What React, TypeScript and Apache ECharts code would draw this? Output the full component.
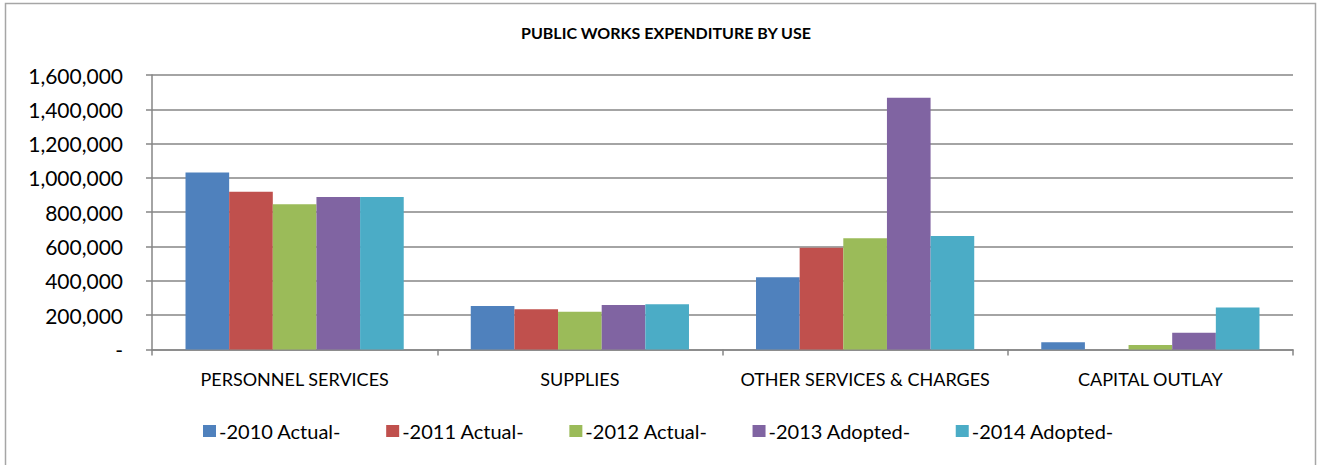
import React, { useEffect, useRef } from "react";
import * as echarts from "echarts";

const categories = ["PERSONNEL SERVICES", "SUPPLIES", "OTHER SERVICES & CHARGES", "CAPITAL OUTLAY"];
const seriesNames = ["-2010 Actual-", "-2011 Actual-", "-2012 Actual-", "-2013 Adopted-", "-2014 Adopted-"];
const values2010 = [1032000, 253000, 420000, 41000];
const values2011 = [919000, 234000, 593000, 0];
const values2012 = [846000, 220000, 648000, 25000];
const values2013 = [888000, 259000, 1467000, 97000];
const values2014 = [888000, 263000, 661000, 245000];
const colors = ["#4F81BD", "#C0504D", "#9BBB59", "#8064A2", "#4BACC6"];
const yTicks = { min: 0, max: 1600000, interval: 200000 };

const FONT = "Lato, 'Open Sans', sans-serif";

export default function App() {
  const ref = useRef<HTMLDivElement>(null);
  useEffect(() => {
    if (!ref.current) return;
    const chart = echarts.init(ref.current, undefined, { renderer: "svg" });
    const allValues = [values2010, values2011, values2012, values2013, values2014];
    chart.setOption({
      animation: false,
      backgroundColor: "#ffffff",
      color: colors,
      textStyle: { fontFamily: FONT },
      title: {
        text: "PUBLIC WORKS EXPENDITURE BY USE",
        left: 661,
        textAlign: "center",
        top: 19,
        textStyle: { fontSize: 16, fontWeight: "bold", color: "#000", fontFamily: FONT },
      },
      graphic: [
        {
          type: "rect",
          shape: { x: 5.5, y: 3.5, width: 1310, height: 480 },
          style: { fill: "none", stroke: "#a6a6a6", lineWidth: 1.5 },
          silent: true,
        },
      ],
      legend: {
        top: 416,
        left: 198,
        icon: "rect",
        itemWidth: 13,
        itemHeight: 12,
        itemGap: 45,
        data: seriesNames,
        textStyle: { fontSize: 20, color: "#000", fontFamily: FONT, padding: [0, 0, 0, -2] },
      },
      grid: { left: 152, right: 24, top: 75, bottom: 115.6, containLabel: false },
      xAxis: {
        type: "category",
        data: categories,
        axisLine: { show: true, lineStyle: { color: "#868686", width: 1.5 } },
        axisTick: { show: true, length: 6, lineStyle: { color: "#868686", width: 1.5 } },
        axisLabel: { fontSize: 18, color: "#000", margin: 21, interval: 0, fontFamily: FONT },
      },
      yAxis: {
        type: "value",
        min: yTicks.min,
        max: yTicks.max,
        interval: yTicks.interval,
        axisLine: { show: true, lineStyle: { color: "#868686", width: 1.5 } },
        axisTick: { show: true, length: 6, lineStyle: { color: "#868686", width: 1.5 } },
        splitLine: { show: true, lineStyle: { color: "#868686", width: 1.5 } },
        axisLabel: {
          fontSize: 21,
          color: "#000",
          margin: 29,
          fontFamily: FONT,
          formatter: (v: number) => (v === 0 ? "-" : v.toLocaleString("en-US")),
        },
      },
      series: seriesNames.map((name, i) => ({
        name,
        type: "bar",
        data: allValues[i],
        barGap: "0%",
        barCategoryGap: "23.5%",
        itemStyle: { color: colors[i] },
      })),
    });
    return () => chart.dispose();
  }, []);
  return (
    <div style={{ position: "absolute", left: 0, top: 0, width: 1317, height: 465, background: "#fff" }}>
      <div ref={ref} style={{ width: 1317, height: 465 }} />
    </div>
  );
}
